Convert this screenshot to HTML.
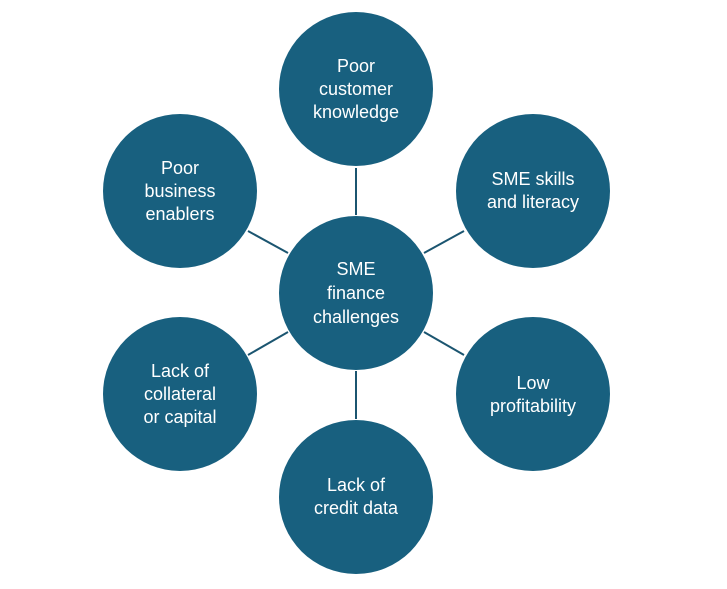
<!DOCTYPE html>
<html><head><style>
body{margin:0;background:#fff;}
text{font-family:"Liberation Sans",sans-serif;font-size:18px;fill:#fff;text-anchor:middle;}
</style></head><body>
<svg width="727" height="584" xmlns="http://www.w3.org/2000/svg">
<g stroke="#1b5570" stroke-width="2">
<line x1="356" y1="168" x2="356" y2="215"/>
<line x1="356" y1="371" x2="356" y2="419"/>
<line x1="248" y1="231" x2="288" y2="253"/>
<line x1="464" y1="231" x2="424" y2="253"/>
<line x1="248" y1="355" x2="288" y2="332"/>
<line x1="464" y1="355" x2="424" y2="332"/>
</g>
<g fill="#18607f">
<circle cx="356" cy="293" r="77"/>
<circle cx="356" cy="89" r="77"/>
<circle cx="356" cy="497" r="77"/>
<circle cx="180" cy="191" r="77"/>
<circle cx="533" cy="191" r="77"/>
<circle cx="180" cy="394" r="77"/>
<circle cx="533" cy="394" r="77"/>
</g>
<text x="356" y="275">SME</text><text x="356" y="299">finance</text><text x="356" y="323">challenges</text>
<text x="356" y="72">Poor</text><text x="356" y="95">customer</text><text x="356" y="118">knowledge</text>
<text x="180" y="174">Poor</text><text x="180" y="197">business</text><text x="180" y="220">enablers</text>
<text x="533" y="185">SME skills</text><text x="533" y="208">and literacy</text>
<text x="533" y="389">Low</text><text x="533" y="412">profitability</text>
<text x="180" y="377">Lack of</text><text x="180" y="400">collateral</text><text x="180" y="423">or capital</text>
<text x="356" y="491">Lack of</text><text x="356" y="514">credit data</text>
</svg>
</body></html>
